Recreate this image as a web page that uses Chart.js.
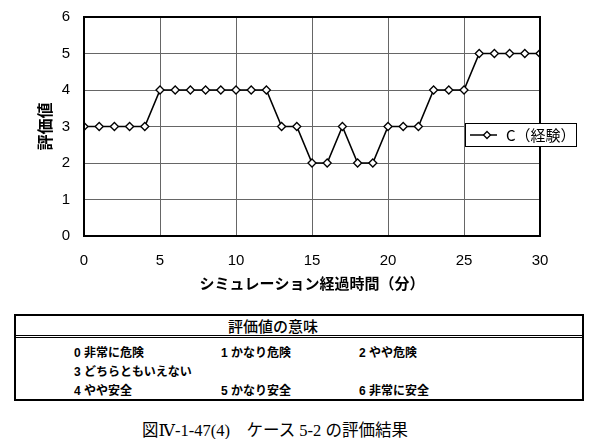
<!DOCTYPE html>
<html><head><meta charset="utf-8">
<script src="https://cdn.jsdelivr.net/npm/chart.js@4"></script>
<style>
html,body{margin:0;padding:0;background:#fff;width:600px;height:439px;overflow:hidden;position:relative;font-family:"Liberation Sans","Noto Sans CJK JP",sans-serif;}
#wrap{position:absolute;left:0;top:0;width:600px;height:300px;}
#tbl{position:absolute;left:14px;top:314px;width:566px;height:83px;border:2px solid #000;box-sizing:content-box;}
#hdr{position:absolute;left:0;top:0;width:100%;height:19px;border-bottom:3px double #000;}
#hdr span{position:absolute;left:212px;top:1px;font-size:15px;font-weight:500;font-family:"Noto Sans CJK JP",sans-serif;line-height:17px;}
.it{position:absolute;font-size:12px;font-weight:bold;font-family:"Liberation Sans","Noto Sans CJK JP",sans-serif;line-height:14px;white-space:nowrap;}
#cap{position:absolute;left:142px;top:417px;font-size:16.5px;font-family:"Liberation Serif","DejaVu Serif","Noto Sans CJK JP",serif;white-space:pre;}
</style></head>
<body>
<div id="wrap"><canvas id="c" width="600" height="300"></canvas></div>
<div id="tbl"><div id="hdr"><span id="hdrText"></span></div></div>
<div id="cap"></div>
<script>
const times = [0,1,2,3,4,5,6,7,8,9,10,11,12,13,14,15,16,17,18,19,20,21,22,23,24,25,26,27,28,29,30];
const valuesC = [3,3,3,3,3,4,4,4,4,4,4,4,4,3,3,2,2,3,2,2,3,3,3,4,4,4,5,5,5,5,5];
const seriesName = "C（経験）";
const yTitle = "評価値";
const xTitle = "シミュレーション経過時間（分）";
const meaningTitle = "評価値の意味";
const meaningLabels = ["0 非常に危険","1 かなり危険","2 やや危険","3 どちらともいえない","4 やや安全","5 かなり安全","6 非常に安全"];
const caption = "図Ⅳ-1-47(4)　ケース 5-2 の評価結果";

document.getElementById('hdrText').textContent = meaningTitle;
document.getElementById('cap').textContent = caption;
const pos = [[58,30],[205,30],[343,30],[58,49],[58,68],[205,68],[343,68]];
const tbl = document.getElementById('tbl');
meaningLabels.forEach((t,i)=>{const d=document.createElement('div');d.className='it';d.style.left=pos[i][0]+'px';d.style.top=pos[i][1]+'px';d.textContent=t;tbl.appendChild(d);});

const borderPlugin = {
  id:'border',
  afterDraw(chart){
    const {ctx, chartArea:a} = chart;
    ctx.save();
    ctx.strokeStyle='#000'; ctx.lineWidth=2;
    ctx.strokeRect(a.left, a.top, a.right-a.left, a.bottom-a.top);
    // legend box
    const lx=465, ly=123, lw=111, lh=23;
    ctx.fillStyle='#fff'; ctx.fillRect(lx,ly,lw,lh);
    ctx.lineWidth=1; ctx.strokeStyle='#000'; ctx.strokeRect(lx+0.5,ly+0.5,lw,lh);
    ctx.lineWidth=1.5; ctx.beginPath(); ctx.moveTo(lx+5,ly+12); ctx.lineTo(lx+32,ly+12); ctx.stroke();
    const cx=lx+22, cy=ly+12, r=3.5;
    ctx.beginPath(); ctx.moveTo(cx,cy-r); ctx.lineTo(cx+r,cy); ctx.lineTo(cx,cy+r); ctx.lineTo(cx-r,cy); ctx.closePath();
    ctx.fillStyle='#fff'; ctx.fill(); ctx.lineWidth=1.3; ctx.stroke();
    ctx.fillStyle='#000'; ctx.font='15px "Noto Sans CJK JP", sans-serif'; ctx.textBaseline='middle'; ctx.textAlign='left';
    ctx.fillText(seriesName, lx+41, ly+12);
    ctx.restore();
  }
};

new Chart(document.getElementById('c'), {
  type:'line',
  data:{datasets:[{label:seriesName,data:times.map((t,i)=>({x:t,y:valuesC[i]})),
    borderColor:'#000',borderWidth:1.6,backgroundColor:'#fff',pointStyle:'rectRot',pointRadius:4,
    pointBorderWidth:1.3,pointBorderColor:'#000',pointBackgroundColor:'#fff',tension:0}]},
  options:{
    responsive:false,animation:false,
    layout:{padding:{left:0,right:60,top:17,bottom:8}},
    plugins:{legend:{display:false},tooltip:{enabled:false}},
    scales:{
      x:{type:'linear',min:0,max:30,
        ticks:{stepSize:5,color:'#000',padding:16,font:{size:15,family:'"Liberation Sans", sans-serif'}},
        grid:{color:'#666',lineWidth:1,drawTicks:false},border:{display:false},
        title:{display:true,text:xTitle,color:'#000',padding:{top:6,bottom:0},font:{size:15,weight:'bold',family:'"Noto Sans CJK JP", sans-serif'}},
        afterFit(s){s.height=56;}},
      y:{min:0,max:6,
        ticks:{stepSize:1,color:'#000',padding:14,font:{size:15,family:'"Liberation Sans", sans-serif'}},
        grid:{color:'#666',lineWidth:1,drawTicks:false},border:{display:false},
        title:{display:true,text:yTitle,color:'#000',padding:{top:35,bottom:0},font:{size:16,weight:'bold',family:'"Noto Sans CJK JP", sans-serif'}},
        afterFit(s){s.width=84;s.paddingTop=0;s.paddingBottom=0;}}
    }
  },
  plugins:[borderPlugin]
});
</script>
</body></html>
